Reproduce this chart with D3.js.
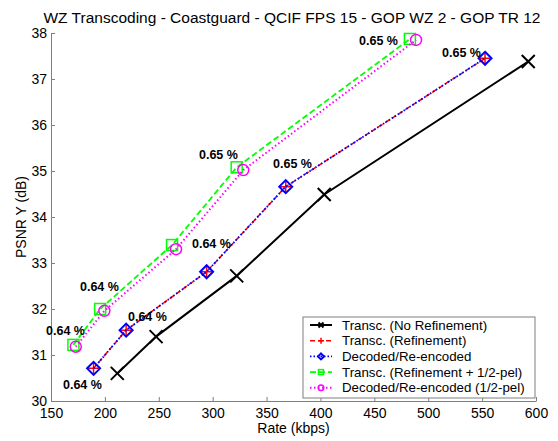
<!DOCTYPE html>
<html><head><meta charset="utf-8">
<script src="https://cdn.jsdelivr.net/npm/d3@7/dist/d3.min.js"></script>
<style>body{margin:0;background:#fff;} svg{display:block;} text{font-family:"Liberation Sans",Arial,sans-serif;}</style>
</head><body><svg id="c" width="558" height="441"></svg>
<script>
const titleText = "WZ Transcoding - Coastguard - QCIF FPS 15 - GOP WZ 2 - GOP TR 12";
const xTicks = [150,200,250,300,350,400,450,500,550,600];
const yTicks = [30,31,32,33,34,35,36,37,38];
const seriesNames = ["Transc. (No Refinement)","Transc. (Refinement)","Decoded/Re-encoded","Transc. (Refinement + 1/2-pel)","Decoded/Re-encoded (1/2-pel)"];
const rateNoRef = [211.5,247.5,322.3,403.5,592.8];
const psnrNoRef = [30.60,31.40,32.72,34.49,37.38];
const rateRef = [189.5,219.7,294.4,367.8,552.7];
const psnrRef = [30.71,31.54,32.81,34.66,37.45];
const rateDec = [189.5,219.7,294.4,367.8,552.7];
const psnrDec = [30.71,31.54,32.81,34.66,37.45];
const rateRefHalf = [170.8,195.6,262.3,322.3,483.0];
const psnrRefHalf = [31.22,32.00,33.39,35.08,37.87];
const rateDecHalf = [173.0,199.5,266.0,328.4,488.7];
const psnrDecHalf = [31.18,31.96,33.30,35.02,37.85];
const annRate = [161.1,145.4,176.9,221.4,280.8,287.3,356.0,435.8,512.8];
const annPsnr = [30.35,31.54,32.48,31.83,33.43,35.35,35.15,37.83,37.57];
const annText = ["0.64 %","0.64 %","0.64 %","0.64 %","0.64 %","0.65 %","0.65 %","0.65 %","0.65 %"];

const svg = d3.select("#c");
const L=51,R=536,T=33,B=401;
const x = d3.scaleLinear().domain([150,600]).range([L,R]);
const y = d3.scaleLinear().domain([30,38]).range([B,T]);
const axisColor = "#7f7f7f";

// axes
const xa = svg.append("g").attr("transform",`translate(0,${B})`)
  .call(d3.axisBottom(x).tickValues(xTicks).tickSizeInner(-4).tickSizeOuter(0).tickPadding(5));
const ya = svg.append("g").attr("transform",`translate(${L},0)`)
  .call(d3.axisLeft(y).tickValues(yTicks).tickSizeInner(-4).tickSizeOuter(0).tickPadding(4));
[xa,ya].forEach(a=>{
  a.select(".domain").attr("stroke",axisColor);
  a.selectAll(".tick line").attr("stroke",axisColor);
  a.selectAll(".tick text").attr("fill","#000").style("font-size","14px").style("font-family","'Liberation Sans',Arial,sans-serif");
});
xa.selectAll(".tick text").attr("dy","0.85em");

svg.append("text").attr("x",292).attr("y",23).attr("text-anchor","middle").style("font-size","15.5px").text(titleText);
svg.append("text").attr("x",(L+R)/2).attr("y",433).attr("text-anchor","middle").style("font-size","14px").text("Rate (kbps)");
svg.append("text").attr("transform",`translate(26,${(T+B)/2}) rotate(-90)`).attr("text-anchor","middle").style("font-size","14px").text("PSNR Y (dB)");

const markers = {
  x:(g,s)=>{g.append("path").attr("d",`M${-s},${-s}L${s},${s}M${-s},${s}L${s},${-s}`);},
  plus:(g,s)=>{g.append("path").attr("d",`M${-s},0L${s},0M0,${-s}L0,${s}`);},
  diamond:(g,s)=>{g.append("path").attr("d",`M0,${-s}L${s},0L0,${s}L${-s},0Z`).attr("fill","none");},
  square:(g,s)=>{g.append("rect").attr("x",-s).attr("y",-s).attr("width",2*s).attr("height",2*s).attr("fill","none");},
  circle:(g,s)=>{g.append("circle").attr("r",s).attr("fill","none");}
};
const series = [
  {rates:rateNoRef, vals:psnrNoRef, color:"#000000", dash:null, lw:2, mk:"x", ms:6.5, mw:2, lms:2.5},
  {rates:rateRef, vals:psnrRef, color:"#ff0000", dash:"5,3", lw:1.5, mk:"plus", ms:5.5, mw:1.5, lms:3},
  {rates:rateDec, vals:psnrDec, color:"#0000ff", dash:"1.5,2", lw:1.8, mk:"diamond", ms:6.5, mw:2, lms:3},
  {rates:rateRefHalf, vals:psnrRefHalf, color:"#00ff00", dash:"6,3", lw:1.8, mk:"square", ms:5.5, mw:1.5, lms:2.5},
  {rates:rateDecHalf, vals:psnrDecHalf, color:"#ff00ff", dash:"1.5,2.5", lw:2, mk:"circle", ms:5.5, mw:1.5, lms:2.8}
];
const line = d3.line().x(d=>x(d[0])).y(d=>y(d[1]));
series.forEach(s=>{
  const pts = s.rates.map((r,i)=>[r,s.vals[i]]);
  svg.append("path").attr("d",line(pts)).attr("fill","none").attr("stroke",s.color)
    .attr("stroke-width",s.lw).attr("stroke-dasharray",s.dash);
  pts.forEach(p=>{
    const g = svg.append("g").attr("transform",`translate(${x(p[0])},${y(p[1])})`)
      .attr("stroke",s.color).attr("stroke-width",s.mw).attr("fill","none");
    markers[s.mk](g,s.ms);
  });
});

// annotations
annText.forEach((t,i)=>{
  svg.append("text").attr("x",x(annRate[i])).attr("y",y(annPsnr[i])).attr("dy","0.35em")
    .style("font-size","12.5px").style("font-weight","bold").text(t);
});

// legend
const lg = svg.append("g");
lg.append("rect").attr("x",303).attr("y",317).attr("width",232).attr("height",81)
  .attr("fill","#fff").attr("stroke",axisColor).attr("stroke-width",1);
series.forEach((s,i)=>{
  const yy = 325 + i*15.7;
  lg.append("line").attr("x1",310).attr("x2",332).attr("y1",yy).attr("y2",yy)
    .attr("stroke",s.color).attr("stroke-width",s.lw).attr("stroke-dasharray",s.dash);
  const g = lg.append("g").attr("transform",`translate(321,${yy})`).attr("stroke",s.color).attr("stroke-width",s.mw).attr("fill","none");
  markers[s.mk](g,s.lms);
  lg.append("text").attr("x",342).attr("y",yy).attr("dy","0.35em").style("font-size","13.3px").text(seriesNames[i]);
});
</script></body></html>
